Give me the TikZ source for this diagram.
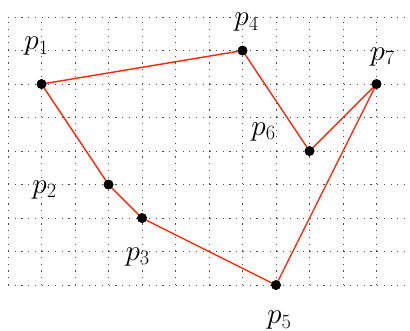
\documentclass[tikz,border=0pt]{standalone}
\begin{document}
\begin{tikzpicture}[x=1cm,y=1cm,
  gridline/.style={line width=0.8pt, black!70, dash pattern=on 1pt off 4.7pt},
  pt/.style={circle, fill=black, inner sep=0pt, minimum size=0.29cm},
  edge/.style={line width=1.2pt, color={rgb,255:red,255;green,40;blue,10}},
  lab/.style={inner sep=0pt, font=\fontsize{24}{29}\selectfont}]
\useasboundingbox (-1.24,-7.37) rectangle (11,2.51);
% grid
\foreach \y in {-6,...,2} \draw[gridline] (-1,\y) -- (11,\y);
\foreach \x in {-1,...,10} \draw[gridline] (\x,-6) -- (\x,2);
% points
\node[pt] (p1) at (0,0) {};
\node[pt] (p2) at (2,-3) {};
\node[pt] (p3) at (3,-4) {};
\node[pt] (p4) at (6,1) {};
\node[pt] (p5) at (7,-6) {};
\node[pt] (p6) at (8,-2) {};
\node[pt] (p7) at (10,0) {};
% polygon
\draw[edge] (p1.center) -- (p4.center) -- (p6.center) -- (p7.center) -- (p5.center) -- (p3.center) -- (p2.center) -- cycle;
\foreach \n in {p1,p2,p3,p4,p5,p6,p7} \node[pt] at (\n) {};
% labels
\node[lab] (l1) at (-0.15,1.13) {$p_1$};
\node[lab] (l2) at (0.09,-3.16) {$p_2$};
\node[lab] (l3) at (2.87,-5.16) {$p_3$};
\node[lab] (l4) at (6.12,1.84) {$p_4$};
\node[lab] (l5) at (7.1,-7.05) {$p_5$};
\node[lab] (l6) at (6.63,-1.43) {$p_6$};
\node[lab] (l7) at (10.18,0.81) {$p_7$};
\end{tikzpicture}
\end{document}
